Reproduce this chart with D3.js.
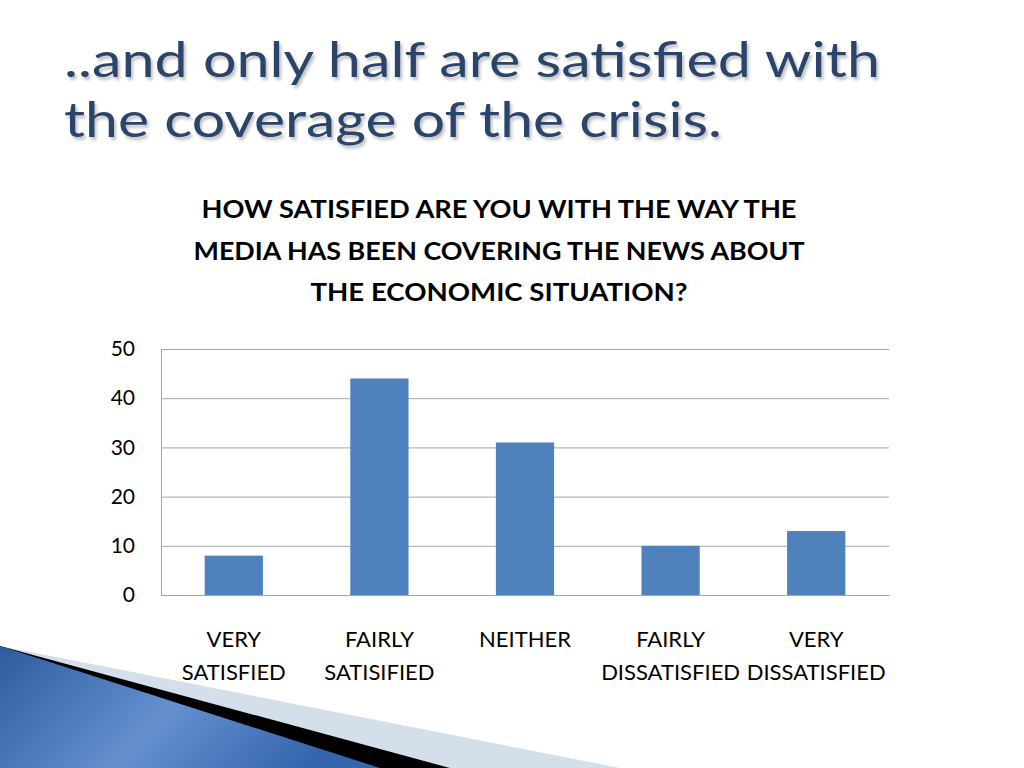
<!DOCTYPE html>
<html><head><meta charset="utf-8">
<script src="https://cdn.jsdelivr.net/npm/d3@7"></script>
<style>body{margin:0;background:#fff;overflow:hidden}</style>
</head><body>
<svg id="c" width="1024" height="768"></svg>
<script>
// ---- data ----
const categories = ["VERY|SATISFIED", "FAIRLY|SATISIFIED", "NEITHER|", "FAIRLY|DISSATISFIED", "VERY|DISSATISFIED"];
const values = [8, 44, 31, 10, 13];
const yTicks = [0, 10, 20, 30, 40, 50];
const titleLines = ["..and only half are satisfied with", "the coverage of the crisis."];
const chartTitleLines = ["HOW SATISFIED ARE YOU WITH THE WAY THE", "MEDIA HAS BEEN COVERING THE NEWS ABOUT", "THE ECONOMIC SITUATION?"];

const svg = d3.select("#c");
const defs = svg.append("defs");

// decoration gradient
const g1 = defs.append("linearGradient").attr("id", "blueGrad")
  .attr("x1", "0%").attr("y1", "0%").attr("x2", "100%").attr("y2", "30%");
g1.append("stop").attr("offset", "0%").attr("stop-color", "#2d5c9e");
g1.append("stop").attr("offset", "55%").attr("stop-color", "#6490d0");
g1.append("stop").attr("offset", "100%").attr("stop-color", "#3566ad");

const sh = defs.append("filter").attr("id", "shadow").attr("x", "-5%").attr("y", "-20%").attr("width", "110%").attr("height", "140%");
sh.append("feDropShadow").attr("dx", 2).attr("dy", 3).attr("stdDeviation", 1.5).attr("flood-color", "#000").attr("flood-opacity", 0.25);

// bottom-left decoration
const deco = svg.append("g");
deco.append("polygon").attr("points", "0,646 620,768 0,768").attr("fill", "#d5dfec");
deco.append("polygon").attr("points", "0,646 450,768 0,768").attr("fill", "#000");
deco.append("polygon").attr("points", "0,646 380,768 0,768").attr("fill", "url(#blueGrad)");

// slide title
const tEl = svg.append("g").attr("filter", "url(#shadow)");
const titleWidths = [816, 658];
tEl.selectAll("text").data(titleLines).join("text")
  .attr("x", 64).attr("y", (d, i) => 77 + i * 60)
  .attr("font-family", "Lato, sans-serif").attr("font-size", 49)
  .attr("fill", "#2a4569")
  .attr("textLength", (d, i) => titleWidths[i]).attr("lengthAdjust", "spacingAndGlyphs")
  .text(d => d);

// chart title
const ctWidths = [595, 611, 377];
svg.append("g").selectAll("text").data(chartTitleLines).join("text")
  .attr("x", 499).attr("y", (d, i) => 218 + i * 41.5)
  .attr("text-anchor", "middle")
  .attr("font-family", "Lato, sans-serif").attr("font-weight", "bold").attr("font-size", 24)
  .attr("fill", "#000")
  .attr("textLength", (d, i) => ctWidths[i]).attr("lengthAdjust", "spacingAndGlyphs")
  .text(d => d);

// scales
const x = d3.scaleBand().domain(categories).range([161, 889]).paddingInner(0.6).paddingOuter(0.3);
const y = d3.scaleLinear().domain([0, 50]).range([595, 349]);

// gridlines
const grid = svg.append("g").attr("transform", "translate(161,0)")
  .call(d3.axisLeft(y).tickValues(yTicks).tickSize(-728).tickFormat(""));
grid.selectAll(".tick line").attr("stroke", "#a6a6a6");
grid.select(".domain").attr("stroke", "#a6a6a6");

// y labels
const yl = svg.append("g").attr("transform", "translate(161,0)")
  .call(d3.axisLeft(y).tickValues(yTicks).tickSize(0).tickPadding(26));
yl.select(".domain").remove();
yl.selectAll("text").attr("font-family", "Lato, sans-serif").attr("font-size", 21).attr("fill", "#000");

// bars
svg.append("g").selectAll("rect").data(values).join("rect")
  .attr("x", (d, i) => x(categories[i]))
  .attr("y", d => y(d))
  .attr("width", x.bandwidth())
  .attr("height", d => y(0) - y(d))
  .attr("fill", "#4f81bd");

// x axis
const xa = svg.append("g").attr("transform", "translate(0,595)")
  .call(d3.axisBottom(x).tickSize(0).tickFormat(""));
xa.select(".domain").attr("stroke", "#a6a6a6");
xa.selectAll(".tick").each(function(d) {
  const parts = d.split("|");
  const t = d3.select(this).append("text")
    .attr("font-family", "Lato, sans-serif").attr("font-size", 22).attr("fill", "#000")
    .attr("text-anchor", "middle");
  parts.forEach((p, i) => {
    t.append("tspan").attr("x", 0).attr("y", 52 + i * 33).text(p);
  });
});
</script>
</body></html>
